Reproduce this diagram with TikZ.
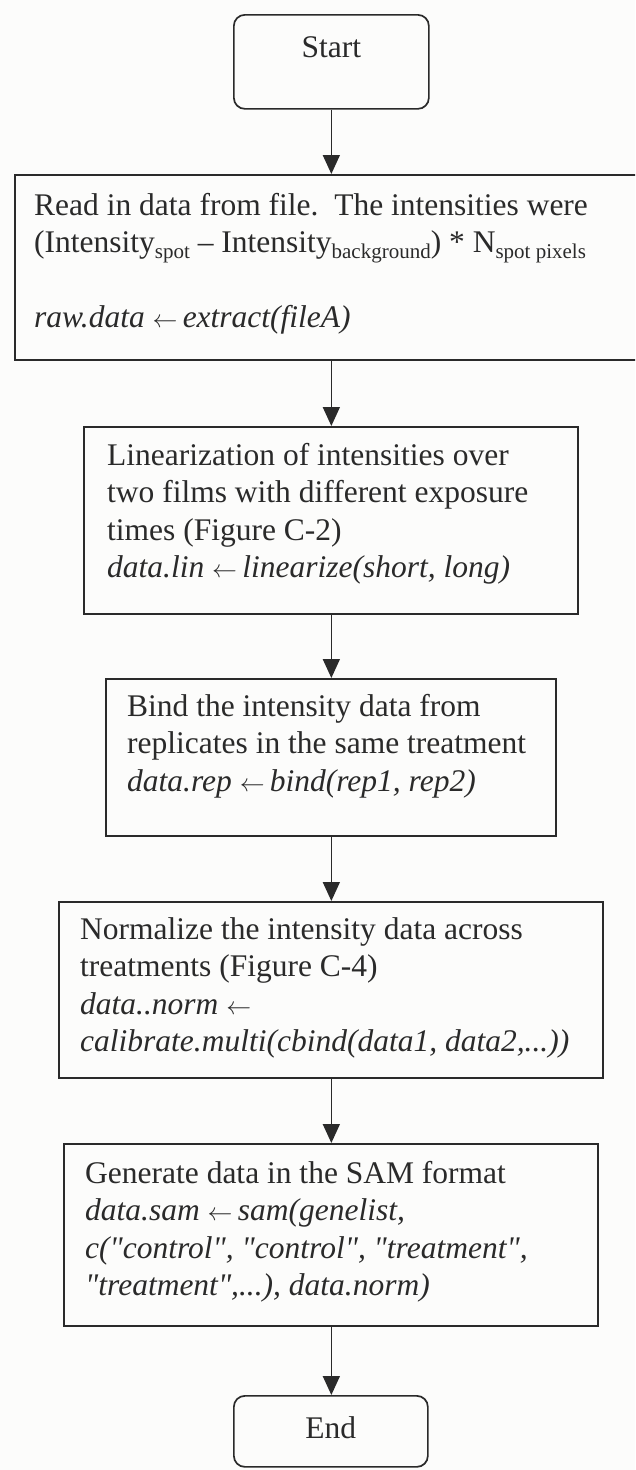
\documentclass[tikz,border=0pt]{standalone}
\usepackage{fontspec}
\setmainfont{Liberation Serif}[Ligatures={TeXOff,CommonOff}]
\usetikzlibrary{arrows.meta,calc}
\definecolor{ink}{HTML}{2A2A2A}
\definecolor{paper}{HTML}{FCFCFB}
% lowered small text used for the subscripts of the intensity formula
\newcommand\lowsub[1]{\raisebox{-6pt}{\fontsize{21}{21}\selectfont #1}}
% assignment arrow of the R snippets
\newcommand\larr{\ensuremath{\leftarrow}}
\begin{document}
\begin{tikzpicture}[x=1pt,y=-1pt,
  stepbox/.style={draw=ink, line width=1.7pt, inner sep=0pt, anchor=north west},
  termbox/.style={stepbox, rounded corners=11pt},
  flowtext/.style={anchor=base west, inner sep=0pt, text=ink,
    font=\fontsize{31.5}{37.5}\selectfont},
  flowarrow/.style={draw=ink, line width=1.6pt, -{Triangle[width=17pt,length=19pt]}}]

\fill[paper] (0,0) rectangle (635,1470);
\useasboundingbox (0,0) rectangle (635,1470);
\clip (0,0) rectangle (635,1470);

% boxes
\node[termbox, minimum width=195pt, minimum height=94pt] (start) at (233,14) {};
\node[stepbox, minimum width=632pt, minimum height=185pt] (read) at (14,174) {};
\node[stepbox, minimum width=494pt, minimum height=187pt] (lin) at (83,426) {};
\node[stepbox, minimum width=450pt, minimum height=157pt] (bind) at (105,678) {};
\node[stepbox, minimum width=544pt, minimum height=176pt] (norm) at (58,901) {};
\node[stepbox, minimum width=534pt, minimum height=182pt] (sam) at (63,1143) {};
\node[termbox, minimum width=194pt, minimum height=71pt] (end) at (233,1395) {};

% texts
\node[flowtext, anchor=base] (starttext) at ($(start.north)+(0,43)$) {Start};
\node[flowtext, anchor=base] (endtext) at ($(end.north)+(0,43)$) {End};

\node[flowtext] (readtext) at ($(read.north west)+(20,41)$) {\parbox[t]{600pt}{\raggedright
  Read in data from file.\ \ The intensities were\\
  (Intensity\lowsub{spot} – Intensity\lowsub{background}) * N\lowsub{spot pixels}\\
  \mbox{}\\
  \textit{raw.data \larr\,extract(fileA)}}};

\node[flowtext] (lintext) at ($(lin.north west)+(24,39)$) {\parbox[t]{470pt}{\raggedright
  Linearization of intensities over\\
  two films with different exposure\\
  times (Figure C-2)\\
  \textit{data.lin \larr\,linearize(short, long)}}};

\node[flowtext] (bindtext) at ($(bind.north west)+(22,38)$) {\parbox[t]{425pt}{\raggedright
  Bind the intensity data from\\
  replicates in the same treatment\\
  \textit{data.rep \larr\,bind(rep1, rep2)}}};

\node[flowtext] (normtext) at ($(norm.north west)+(22,38)$) {\parbox[t]{520pt}{\raggedright
  Normalize the intensity data across\\
  treatments (Figure C-4)\\
  \textit{data..norm \larr}\\
  \textit{calibrate.multi(cbind(data1, data2,...))}}};

\node[flowtext] (samtext) at ($(sam.north west)+(22,40)$) {\parbox[t]{510pt}{\raggedright
  Generate data in the SAM format\\
  \textit{data.sam \larr\,sam(genelist,}\\
  \textit{c("control", "control", "treatment",}\\
  \textit{"treatment",...), data.norm)}}};

% connectors
\draw[flowarrow] (start.south) -- (start.south |- read.north);
\draw[flowarrow] (read.south -| start.south) -- (lin.north -| start.south);
\draw[flowarrow] (lin.south -| start.south) -- (bind.north -| start.south);
\draw[flowarrow] (bind.south -| start.south) -- (norm.north -| start.south);
\draw[flowarrow] (norm.south -| start.south) -- (sam.north -| start.south);
\draw[flowarrow] (sam.south -| start.south) -- (end.north -| start.south);
\end{tikzpicture}
\end{document}
